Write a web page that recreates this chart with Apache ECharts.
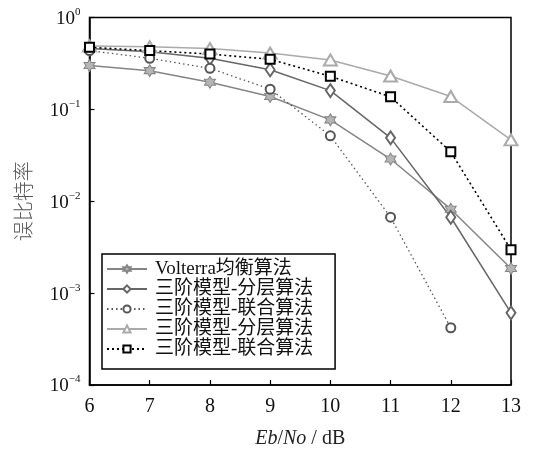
<!DOCTYPE html>
<html>
<head>
<meta charset="utf-8">
<script src="https://cdn.jsdelivr.net/npm/echarts@6/dist/echarts.min.js"></script>
<style>html,body{margin:0;padding:0;background:#fff;}#c{width:536px;height:450px;}</style>
</head>
<body>
<div id="c"></div>
<script>
var snr = [6, 7, 8, 9, 10, 11, 12, 13];
var seriesNames = ['Volterra均衡算法', '三阶模型-分层算法', '三阶模型-联合算法', '三阶模型-分层算法 ', '三阶模型-联合算法 '];
var volterra = [0.30, 0.264, 0.197, 0.138, 0.0769, 0.0288, 0.0082, 0.00185];
var layered3 = [0.46, 0.425, 0.36, 0.27, 0.16, 0.049, 0.0067, 0.00061];
var joint3 = [0.436, 0.36, 0.28, 0.166, 0.0515, 0.0067, 0.00042];
var layered3b = [0.49, 0.48, 0.46, 0.41, 0.345, 0.231, 0.138, 0.0466];
var joint3b = [0.474, 0.436, 0.40, 0.351, 0.229, 0.137, 0.0345, 0.00297];

function pairs(vals) { return vals.map(function (v, i) { return [snr[i], v]; }); }

var star = 'path://M10 0L12.887 5L18.66 5L15.77 10L18.66 15L12.887 15L10 20L7.113 15L1.34 15L4.23 10L1.34 5L7.113 5Z';
var serif = "'Liberation Serif', 'Times New Roman', 'Noto Sans CJK SC', serif";

var chart = echarts.init(document.getElementById('c'), null, {renderer: 'canvas'});
chart.setOption({
  animation: false,
  backgroundColor: '#fff',
  grid: {left: 89.5, right: 25, top: 17.5, bottom: 65, outerBoundsMode: 'none', containLabel: false,
    show: true, borderColor: '#000', borderWidth: 1.5, backgroundColor: 'transparent'},
  legend: {
    left: 102, top: 254, orient: 'vertical',
    backgroundColor: '#fff', borderColor: '#000', borderWidth: 1.5,
    padding: [5, 17, 10, 4], itemGap: 0, itemWidth: 40, itemHeight: 9,
    textStyle: {fontFamily: serif, fontSize: 19, color: '#111', lineHeight: 20, padding: [0, 0, 0, 3]},
    data: seriesNames
  },
  xAxis: {
    type: 'value', min: 6, max: 13, interval: 1,
    axisLine: {show: true, lineStyle: {color: '#000', width: 1.5}},
    axisTick: {show: true, inside: true, length: 5, lineStyle: {color: '#000', width: 1.2}},
    splitLine: {show: false},
    axisLabel: {fontFamily: serif, fontSize: 20, color: '#111', margin: 12},
    name: '{i|Eb}{n|/}{i|No}{n| / dB}',
    nameLocation: 'middle', nameGap: 44,
    nameTextStyle: {rich: {i: {fontFamily: serif, fontStyle: 'italic', fontSize: 20, color: '#222'}, n: {fontFamily: serif, fontSize: 20, color: '#222'}}}
  },
  yAxis: {
    type: 'log', logBase: 10, min: 1e-4, max: 1,
    axisLine: {show: true, lineStyle: {color: '#000', width: 1.5}},
    axisTick: {show: true, inside: true, length: 5, lineStyle: {color: '#000', width: 1.2}},
    minorTick: {show: false},
    splitLine: {show: false},
    axisLabel: {
      margin: 9,
      formatter: function (v) {
        var e = Math.round(Math.log10(v));
        return '{b|10}{s|' + (e < 0 ? '\u2212' + (-e) : e) + '}';
      },
      rich: {
        b: {fontFamily: serif, fontSize: 19, color: '#111', lineHeight: 22, verticalAlign: 'bottom'},
        s: {fontFamily: serif, fontSize: 11, color: '#111', lineHeight: 22, verticalAlign: 'top'}
      }
    },
    name: '误比特率', nameLocation: 'middle', nameGap: 56, nameRotate: 90,
    nameTextStyle: {fontFamily: "'Noto Sans CJK SC', sans-serif", fontSize: 20, fontWeight: 300, color: '#555'}
  },
  series: [
    {name: seriesNames[0], type: 'line', data: pairs(volterra), symbol: star, symbolSize: [11, 12],
      lineStyle: {color: '#858585', width: 1.5}, itemStyle: {color: '#b5b5b5', borderColor: '#858585', borderWidth: 1}},
    {name: seriesNames[1], type: 'line', data: pairs(layered3), symbol: 'emptyDiamond', symbolSize: [9, 13],
      lineStyle: {color: '#666', width: 1.5}, itemStyle: {color: '#666', borderWidth: 1.2}},
    {name: seriesNames[2], type: 'line', data: pairs(joint3), symbol: 'emptyCircle', symbolSize: 9,
      lineStyle: {color: '#555', width: 1.3, type: [1.5, 3]}, itemStyle: {color: '#555', borderWidth: 1.2}},
    {name: seriesNames[3], type: 'line', data: pairs(layered3b), symbol: 'emptyTriangle', symbolSize: [13, 11],
      lineStyle: {color: '#aaa', width: 1.5}, itemStyle: {color: '#aaa', borderWidth: 1.3}},
    {name: seriesNames[4], type: 'line', data: pairs(joint3b), symbol: 'emptyRect', symbolSize: 9,
      lineStyle: {color: '#000', width: 1.6, type: [2, 3]}, itemStyle: {color: '#000', borderWidth: 1.6}}
  ]
});
</script>
</body>
</html>
